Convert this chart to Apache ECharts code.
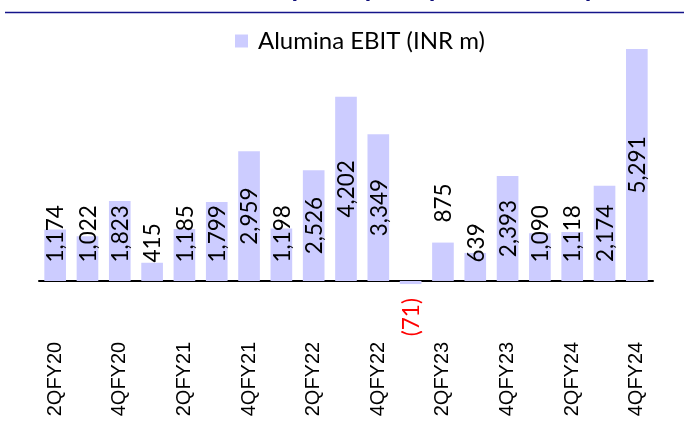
<!DOCTYPE html>
<html>
<head>
<meta charset="utf-8">
<script src="https://cdn.jsdelivr.net/npm/echarts@6/dist/echarts.min.js"></script>
<style>html,body{margin:0;padding:0;background:#fff}#c{width:684px;height:426px}</style>
</head>
<body>
<div id="c"></div>
<script>
const categories = ['2QFY20','3QFY20','4QFY20','1QFY21','2QFY21','3QFY21','4QFY21','1QFY22','2QFY22','3QFY22','4QFY22','1QFY23','2QFY23','3QFY23','4QFY23','1QFY24','2QFY24','3QFY24','4QFY24'];
const ebit = [1174,1022,1823,415,1185,1799,2959,1198,2526,4202,3349,-71,875,639,2393,1090,1118,2174,5291];
const seriesName = 'Alumina EBIT (INR m)';
const titleText = 'Alumina EBIT (INR m) at a peak in FY24 (in INR million terms)';
const raisedLabels = ['2QFY23'];

const chart = echarts.init(document.getElementById('c'), null, {renderer: 'canvas'});
function fmt(v){
  return v < 0 ? '{neg|(' + Math.abs(v).toLocaleString('en-US') + ')}' : v.toLocaleString('en-US');
}
chart.setOption({
  animation: false,
  backgroundColor: '#fff',
  graphic: [
    {type: 'text', left: 126, top: -23, style: {text: titleText, font: 'bold 24px "Liberation Sans"', fill: '#0f0f7a'}},
    {type: 'line', shape: {x1: 5, y1: 12.5, x2: 684, y2: 12.5}, style: {stroke: '#14148a', lineWidth: 1.5}}
  ],
  legend: {
    left: 230, top: 24,
    icon: 'rect', itemWidth: 13, itemHeight: 13,
    textStyle: {fontFamily: 'Lato', fontSize: 24, color: '#000', padding: [0,0,0,5]},
    data: [seriesName]
  },
  grid: {left: 39, right: 31, top: 17.9, bottom: 101.2, containLabel: false, outerBoundsMode: 'none'},
  xAxis: {
    type: 'category', data: categories,
    axisLine: {onZero: true, lineStyle: {color: '#000', width: 2}},
    axisTick: {show: false},
    axisLabel: {interval: 1, rotate: 90, margin: 17, fontFamily: 'Liberation Sans', fontSize: 20, color: '#000'}
  },
  yAxis: {type: 'value', min: -1000, max: 6000, show: false, splitLine: {show: false}},
  series: [{
    name: seriesName, type: 'bar', data: ebit, barWidth: '67%',
    itemStyle: {color: '#ccccff'},
    label: {
      show: true, position: 'inside', rotate: 90,
      fontFamily: 'Lato', fontSize: 22.5, color: '#000',
      formatter: p => fmt(p.value),
      rich: {neg: {color: '#ff0000', fontFamily: 'Lato', fontSize: 22.5}}
    },
    labelLayout: function (p) {
      const r = p.rect;
      const top = r.y, bottom = r.y + r.height;
      const L = p.labelRect.height;
      const v = ebit[p.dataIndex];
      const x = r.x + r.width / 2 + 1;
      let y;
      if (v < 0) {
        y = bottom + 14 + L / 2;
      } else if (raisedLabels.indexOf(categories[p.dataIndex]) >= 0) {
        y = top - 20 - L / 2;
      } else {
        y = (top + bottom) / 2;
        const maxB = bottom - 18.5;
        if (y + L / 2 > maxB) y = maxB - L / 2;
      }
      return {x: x, y: y, align: 'center', verticalAlign: 'middle'};
    }
  }]
});
</script>
</body>
</html>
